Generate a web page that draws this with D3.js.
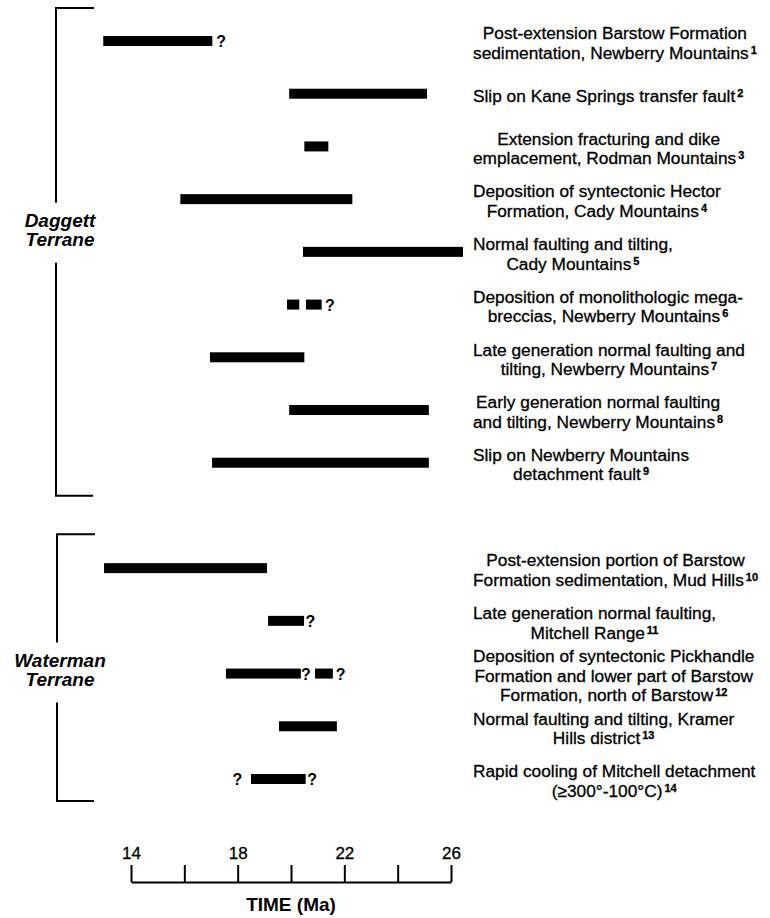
<!DOCTYPE html>
<html>
<head>
<meta charset="utf-8">
<script src="https://cdn.jsdelivr.net/npm/d3@7"></script>
<style>
  body { margin: 0; background: #fff; }
  svg { display: block; font-family: "Liberation Sans", Arial, Helvetica, sans-serif; }
</style>
</head>
<body>
<svg id="chart" width="770" height="918"></svg>
<script>
// terranes and events (top to bottom)
const terranes = ["Daggett", "Waterman"];
const eventTerrane = [0, 0, 0, 0, 0, 0, 0, 0, 0, 1, 1, 1, 1, 1];
const eventLabels = [
  ["Post-extension Barstow Formation", "sedimentation, Newberry Mountains"],
  ["Slip on Kane Springs transfer fault"],
  ["Extension fracturing and dike", "emplacement, Rodman Mountains"],
  ["Deposition of syntectonic Hector", "Formation, Cady Mountains"],
  ["Normal faulting and tilting,", "Cady Mountains"],
  ["Deposition of monolithologic mega-", "breccias, Newberry Mountains"],
  ["Late generation normal faulting and", "tilting, Newberry Mountains"],
  ["Early generation normal faulting", "and tilting, Newberry Mountains"],
  ["Slip on Newberry Mountains", "detachment fault"],
  ["Post-extension portion of Barstow", "Formation sedimentation, Mud Hills"],
  ["Late generation normal faulting,", "Mitchell Range"],
  ["Deposition of syntectonic Pickhandle", "Formation and lower part of Barstow", "Formation, north of Barstow"],
  ["Normal faulting and tilting, Kramer", "Hills district"],
  ["Rapid cooling of Mitchell detachment", "(\u2265300\u00b0-100\u00b0C)"]
];
const eventNotes = ["1", "2", "3", "4", "5", "6", "7", "8", "9", "10", "11", "12", "13", "14"];
// time spans in Ma
const eventSegments = [
  [[12.96, 17.05]],
  [[19.93, 25.1]],
  [[20.5, 21.4]],
  [[15.85, 22.3]],
  [[20.45, 26.45]],
  [[19.85, 20.31], [20.56, 21.15]],
  [[16.96, 20.5]],
  [[19.93, 25.17]],
  [[17.04, 25.17]],
  [[12.99, 19.1]],
  [[19.14, 20.49]],
  [[17.56, 20.37], [20.9, 21.57]],
  [[19.55, 21.72]],
  [[18.5, 20.55]]
];
// uncertain ends ("?") in Ma
const eventQueries = [
  [17.38], [], [], [], [], [21.46], [], [], [],
  [], [20.73], [20.56, 21.86], [], [17.99, 20.79]
];
const timeTicks = [14, 16, 18, 20, 22, 24, 26];
const timeTickLabels = ["14", "", "18", "", "22", "", "26"];

// layout
const svg = d3.select("#chart");
const x = d3.scaleLinear().domain([14, 26]).range([131, 451]);
const rowOf = i => i + eventTerrane[i];
const y = d3.scaleLinear().domain([0, 14]).range([41, 779]);
const barH = 10;

// bars
eventSegments.forEach((segs, i) => {
  svg.append("g").selectAll("rect")
    .data(segs)
    .join("rect")
    .attr("x", d => x(d[0]))
    .attr("width", d => x(d[1]) - x(d[0]))
    .attr("y", y(rowOf(i)) - barH / 2)
    .attr("height", barH)
    .attr("fill", "#000");
});

// question marks
eventQueries.forEach((qs, i) => {
  svg.append("g").selectAll("text")
    .data(qs)
    .join("text")
    .attr("x", d => x(d))
    .attr("y", y(rowOf(i)) + 6)
    .attr("text-anchor", "middle")
    .attr("font-size", "16px")
    .attr("font-weight", "bold")
    .text("?");
});

// event labels: one text per event, lines centred in a block starting at labelLeft
const labelLeft = 473;
const lineH = 19.5;
eventLabels.forEach((lines, i) => {
  const cy = y(rowOf(i)) + 2;
  const t = svg.append("text")
    .attr("font-size", "17.3px")
    .attr("stroke", "#000")
    .attr("stroke-width", 0.3);
  const spans = lines.map((ln, k) => t.append("tspan")
    .attr("y", cy + (k - (lines.length - 1) / 2) * lineH + 6)
    .text(ln));
  const sup = t.append("tspan")
    .attr("font-size", "11px")
    .attr("font-weight", "bold")
    .attr("dx", 2)
    .attr("dy", -5)
    .text(eventNotes[i]);
  const lens = spans.map(s => s.node().getComputedTextLength());
  lens[lens.length - 1] += sup.node().getComputedTextLength() + 2;
  const w = d3.max(lens);
  spans.forEach((s, k) => s.attr("x", labelLeft + (w - lens[k]) / 2));
});

// terrane brackets
const bracket = [
  { top: y(0) - 33, bottom: y(8) + 33, mid: y(3.6), lx: 56 },
  { top: y(10) - 34, bottom: y(14) + 22, mid: y(12) - 3, lx: 57 }
];
terranes.forEach((name, j) => {
  const b = bracket[j];
  const g = svg.append("g").attr("stroke", "#000").attr("stroke-width", 2).attr("fill", "none");
  g.append("path").attr("d", `M${b.lx + 38},${b.top}H${b.lx}V${b.mid - 28}`);
  g.append("path").attr("d", `M${b.lx},${b.mid + 32}V${b.bottom}H${b.lx + 37}`);
  const t = svg.append("text")
    .attr("text-anchor", "middle")
    .attr("font-size", "19px")
    .attr("font-weight", "bold")
    .attr("font-style", "italic");
  [name, "Terrane"].forEach((s, k) => {
    t.append("tspan")
      .attr("x", 60)
      .attr("y", b.mid + (k - 0.5) * 19 + 6)
      .text(s);
  });
});

// time axis
const axis = d3.axisTop(x)
  .tickValues(timeTicks)
  .tickSize(17)
  .tickSizeOuter(0)
  .tickPadding(6)
  .tickFormat((d, i) => timeTickLabels[i]);

const ax = svg.append("g")
  .attr("transform", "translate(0,882)")
  .call(axis);
ax.select(".domain").attr("stroke", "#000").attr("stroke-width", 2);
ax.selectAll(".tick line").attr("stroke", "#000").attr("stroke-width", 2);
ax.selectAll(".tick text")
  .attr("fill", "#000")
  .attr("stroke", "#000")
  .attr("stroke-width", 0.3)
  .attr("font-size", "17px")
  .attr("font-family", "Liberation Sans, Arial, sans-serif");

svg.append("text")
  .attr("x", (x(14) + x(26)) / 2)
  .attr("y", 911)
  .attr("text-anchor", "middle")
  .attr("font-size", "19px")
  .attr("font-weight", "bold")
  .text("TIME (Ma)");
</script>
</body>
</html>
